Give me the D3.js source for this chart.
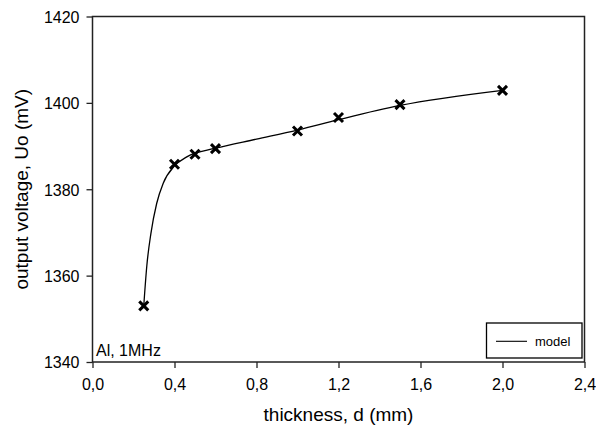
<!DOCTYPE html>
<html><head><meta charset="utf-8">
<script src="https://cdn.jsdelivr.net/npm/d3@7"></script>
<style>body{margin:0;background:#fff}svg{display:block}text{font-family:"Liberation Sans",Arial,sans-serif;fill:#000}</style>
</head><body><svg id="c" width="596" height="425"></svg>
<script>
// measured points
const thickness = [0.25, 0.4, 0.5, 0.6, 1.0, 1.2, 1.5, 2.0];
const voltage = [1353.0, 1385.8, 1388.1, 1389.4, 1393.5, 1396.6, 1399.6, 1402.9];
// model curve
const modelX = [0.25, 0.265, 0.285, 0.313, 0.345, 0.40, 0.46, 0.6, 0.8, 1.0, 1.2, 1.5, 2.0];
const modelY = [1353.0, 1362.3, 1369.8, 1376.7, 1381.4, 1385.4, 1387.5, 1389.5, 1391.6, 1393.7, 1396.1, 1399.4, 1402.9];
const xTicks = [0, 0.4, 0.8, 1.2, 1.6, 2.0, 2.4];
const yTicks = [1340, 1360, 1380, 1400, 1420];

const svg = d3.select("#c");
const L = 92.5, R = 584.5, T = 16.5, B = 362;
const x = d3.scaleLinear().domain([0, 2.4]).range([L, R]);
const y = d3.scaleLinear().domain([1340, 1420]).range([B, T]);
const fmt = d => d3.format(".1f")(d).replace(".", ",");

const gx = svg.append("g").attr("transform", `translate(0,${B})`)
  .call(d3.axisBottom(x).tickValues(xTicks).tickFormat(fmt).tickSizeOuter(0).tickSize(6).tickPadding(11));
const gy = svg.append("g").attr("transform", `translate(${L},0)`)
  .call(d3.axisLeft(y).tickValues(yTicks).tickFormat(d3.format("d")).tickSizeOuter(0).tickSize(6).tickPadding(7));
[gx, gy].forEach(g => {
  g.select(".domain").remove();
  g.selectAll("line").attr("stroke", "#222").attr("stroke-width", 1.3);
  g.selectAll("text").style("font-size", "16px").style("font-family", "Liberation Sans, Arial, sans-serif").attr("fill", "#000");
});
gy.selectAll("text").attr("dy", "0.36em");

// frame
svg.append("rect").attr("x", L).attr("y", T).attr("width", R - L).attr("height", B - T)
  .attr("fill", "none").attr("stroke", "#222").attr("stroke-width", 1.5);

// model curve
const line = d3.line().x(d => x(d[0])).y(d => y(d[1])).curve(d3.curveMonotoneX);
svg.append("path").datum(modelX.map((v, i) => [v, modelY[i]]))
  .attr("d", line).attr("fill", "none").attr("stroke", "#000").attr("stroke-width", 1.3);

// markers
const s = 4.5;
svg.append("g").selectAll("path").data(thickness.map((v, i) => [v, voltage[i]])).join("path")
  .attr("d", d => { const cx = x(d[0]), cy = y(d[1]);
    return `M${cx - s},${cy - s}L${cx + s},${cy + s}M${cx - s},${cy + s}L${cx + s},${cy - s}`; })
  .attr("stroke", "#000").attr("stroke-width", 3).attr("fill", "none");

// annotation
svg.append("text").attr("x", 96).attr("y", 356).style("font-size", "16px").text("Al, 1MHz");

// legend
svg.append("rect").attr("x", 486.5).attr("y", 323).attr("width", 95.5).attr("height", 35)
  .attr("fill", "#fff").attr("stroke", "#000").attr("stroke-width", 1.3);
svg.append("line").attr("x1", 496).attr("x2", 527).attr("y1", 341.3).attr("y2", 341.3)
  .attr("stroke", "#000").attr("stroke-width", 1.1);
svg.append("text").attr("x", 535).attr("y", 345.5).style("font-size", "13px").text("model");

// axis titles
svg.append("text").attr("x", (L + R) / 2).attr("y", 420.5).attr("text-anchor", "middle")
  .style("font-size", "19px").text("thickness, d (mm)");
svg.append("text").attr("transform", `translate(28,${(T + B) / 2}) rotate(-90)`).attr("text-anchor", "middle")
  .style("font-size", "19px").text("output voltage, Uo (mV)");
</script></body></html>
